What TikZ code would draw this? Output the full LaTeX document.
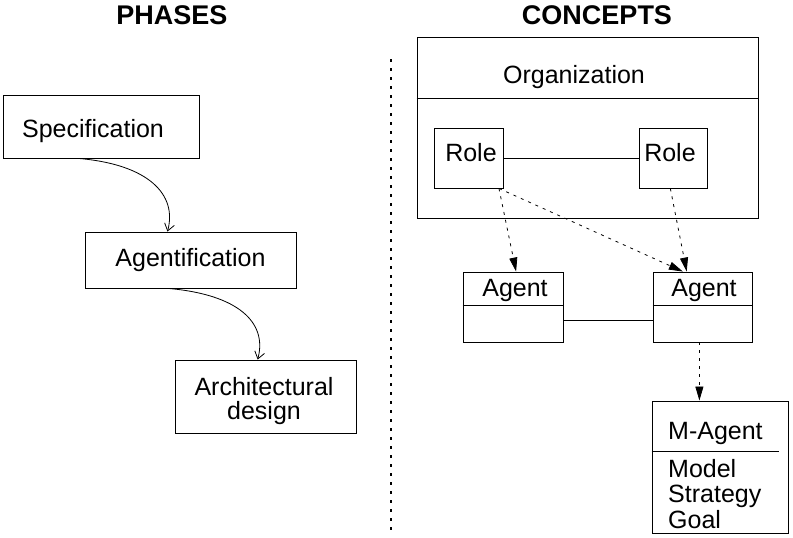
\documentclass[tikz,border=0pt]{standalone}
\usepackage{fontspec}
\setmainfont{Liberation Sans}
\usetikzlibrary{arrows.meta}
\begin{document}
\begin{tikzpicture}[x=1pt,y=-1pt,
  box/.style={draw, line width=0.9pt, inner sep=0pt},
  rule/.style={line width=0.9pt},
  title/.style={font=\fontsize{27}{29}\selectfont\bfseries},
  flow/.style={line width=0.8pt, -{Straight Barb[length=7pt,width=10pt]}},
  link/.style={line width=0.8pt, dash pattern=on 3pt off 5pt, -{Triangle[length=14pt,width=8pt]}}]
\fontsize{25}{27}\selectfont
\useasboundingbox (0,0) rectangle (793,538);

\node[title] (phases) at (172,15.5) {PHASES};
\node[title] (concepts) at (597,15.5) {CONCEPTS};
\coordinate (divtop) at (391,59);
\coordinate (divbot) at (391,530);
\path[draw, line width=1.6pt, dash pattern=on 3pt off 6pt] (divtop) -- (divbot);

% phases
\node[box, minimum width=196pt, minimum height=63pt] (spec) at (101,126.5) {};
\node (specname) at (93,131) {Specification};
\node[box, minimum width=211pt, minimum height=56pt] (agf) at (190.5,260) {Agentification};
\node[box, minimum width=181pt, minimum height=73pt] (arch) at (265.5,396.5) {};
\node[align=center, font=\fontsize{25}{24.5}\selectfont] (archname) at (264,401) {Architectural\\design};

\path[draw,flow] (spec.235) .. controls +(70,6) and +(10,-37) .. (agf.129);
\path[draw,flow] (agf.232) .. controls +(70,6) and +(10,-37) .. (arch.102);

% concepts
\node[box, minimum width=341pt, minimum height=181pt] (org) at (587.5,127.5) {};
\node (orgname) at (574,77) {Organization};
\coordinate (orgsep) at (587.5,98);
\path[draw,rule] (org.west |- orgsep) -- (org.east |- orgsep);

\node[box, minimum width=69pt, minimum height=60pt] (role1) at (468.5,158) {};
\node (role1name) at (471,153) {Role};
\node[box, minimum width=68pt, minimum height=60pt] (role2) at (673,158) {};
\node (role2name) at (670,153) {Role};
\path[draw,rule] (role1) -- (role2);

\node[box, minimum width=100pt, minimum height=70pt] (ag1) at (513,307) {};
\node (ag1name) at (515,290.5) {Agent};
\node[box, minimum width=99pt, minimum height=70pt] (ag2) at (702.5,307) {};
\node (ag2name) at (704,290.5) {Agent};
\coordinate (agsep) at (0,305);
\path[draw,rule] (ag1.west |- agsep) -- (ag1.east |- agsep);
\path[draw,rule] (ag2.west |- agsep) -- (ag2.east |- agsep);
\coordinate (aglink) at (0,320);
\path[draw,rule] (ag1.east |- aglink) -- (ag2.west |- aglink);

\node[box, minimum width=136pt, minimum height=132pt] (magent) at (720,467) {};
\node[anchor=base west, inner sep=0pt] (mname) at (668,439) {M-Agent};
\coordinate (msep) at (779,451);
\path[draw,rule] (magent.west |- msep) -- (msep);
\node[anchor=north west, inner sep=0pt, align=left,
  font=\fontsize{25}{25.5}\selectfont] (mattr) at (668,459) {Model\\Strategy\\Goal};

\path[draw,link] (role1.-45) -- (ag1.85);
\path[draw,link] (role1.-45) -- (ag2.119);
\path[draw,link] (role2.265) -- (ag2.114);
\path[draw,link] (ag2.265) -- (ag2.265 |- magent.north);
\end{tikzpicture}
\end{document}
